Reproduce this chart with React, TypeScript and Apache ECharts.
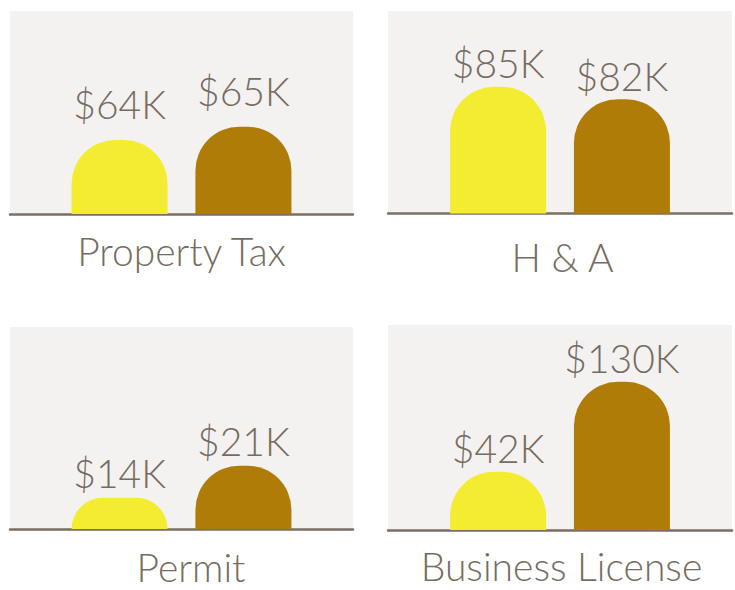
import React, { useEffect, useRef } from "react";
import * as echarts from "echarts";

const categories = ["Property Tax", "H & A", "Permit", "Business License"];
const firstValues = [64, 85, 14, 42];
const secondValues = [65, 82, 21, 130];
// per-panel value-axis range (log scale)
const axisMin = [58.7, 58.7, 9.42, 20.2];
const axisMax = [74.4, 106.1, 121.8, 265.5];

const PANELS = [
  { left: 10, top: 11, width: 343, height: 203, valueGap: 16, nameMargin: 20, nameShift: 0 },
  { left: 388, top: 11, width: 344, height: 202.5, valueGap: 4, nameMargin: 26, nameShift: 5 },
  { left: 10, top: 327, width: 343, height: 202, valueGap: 5, nameMargin: 21, nameShift: 19 },
  { left: 388, top: 325, width: 344, height: 205, valueGap: 4, nameMargin: 19, nameShift: 3 },
];

const TEXT = "#766b60";
const BG = "#f4f2f1";
const LINE = "#7a6f64";
const YELLOW = "#f4ec30";
const GOLD = "#b07c08";
const FONT = "Lato, 'Open Sans', sans-serif";

export default function App() {
  const ref = useRef<HTMLDivElement>(null);
  useEffect(() => {
    if (!ref.current) return;
    const chart = echarts.init(ref.current, undefined, { renderer: "svg" });
    const grids: any[] = [];
    const xAxes: any[] = [];
    const yAxes: any[] = [];
    const series: any[] = [];
    categories.forEach((cat, i) => {
      const p = PANELS[i];
      grids.push({
        left: p.left,
        top: p.top,
        width: p.width,
        height: p.height,
        show: true,
        backgroundColor: BG,
        borderWidth: 0,
      });
      xAxes.push({
        type: "category",
        gridIndex: i,
        data: [cat],
        axisTick: { show: false },
        axisLine: { onZero: false, lineStyle: { color: LINE, width: 2.5 } },
        axisLabel: {
          color: TEXT,
          fontFamily: FONT,
          fontWeight: 300,
          fontSize: 39,
          lineHeight: 34,
          margin: p.nameMargin,
          padding: [0, 0, 0, p.nameShift],
        },
      });
      yAxes.push({
        type: "log",
        gridIndex: i,
        min: axisMin[i],
        max: axisMax[i],
        show: false,
        splitLine: { show: false },
      });
      const mk = (vals: number[], color: string) => ({
        type: "bar",
        xAxisIndex: i,
        yAxisIndex: i,
        data: [vals[i]],
        barWidth: 96,
        barGap: "29%",
        clip: true,
        itemStyle: { color, borderRadius: [44, 44, 0, 0] },
        label: {
          show: true,
          position: "top",
          distance: p.valueGap,
          color: TEXT,
          fontFamily: FONT,
          fontWeight: 300,
          fontSize: 39,
          formatter: (d: any) => `$${d.value}K`,
        },
      });
      series.push(mk(firstValues, YELLOW));
      series.push(mk(secondValues, GOLD));
    });
    chart.setOption({
      animation: false,
      backgroundColor: "#ffffff",
      grid: grids,
      xAxis: xAxes,
      yAxis: yAxes,
      series,
    });
    return () => chart.dispose();
  }, []);
  return (
    <div
      ref={ref}
      style={{ position: "absolute", left: 0, top: 0, width: 735, height: 590 }}
    />
  );
}
